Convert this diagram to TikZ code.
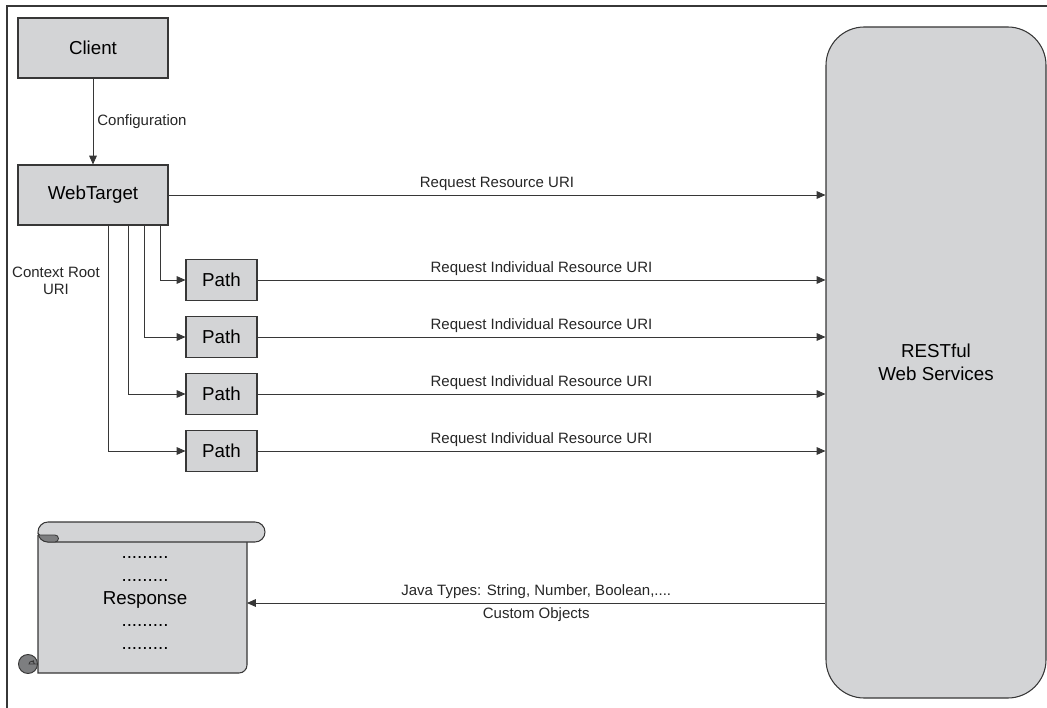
\documentclass[tikz,border=0pt]{standalone}
\usepackage{fontspec}
\setmainfont{Liberation Sans}
\usetikzlibrary{arrows.meta,positioning,calc}
\definecolor{boxgray}{RGB}{211,212,214}
\definecolor{linegray}{RGB}{55,55,55}
\definecolor{curlgray}{RGB}{125,126,128}
\tikzset{
    box color/.style={fill=boxgray,draw=linegray},
    box style/.style={box color,rectangle,line width=0.9pt,font=\fontsize{16}{19.6}\selectfont,inner sep=0pt},
    big box/.style={box style,minimum width=4.5cm,minimum height=1.8cm},
    path box/.style={box style,minimum width=2.13cm,minimum height=1.23cm},
    arr/.style={-{Triangle[length=7.5pt,width=6.5pt]},draw=linegray,line width=0.8pt},
    small label/.style={font=\fontsize{12.8}{15}\selectfont,text=black!85},
}

\begin{document}
\begin{tikzpicture}[x=0.03cm,y=-0.03cm]
    \useasboundingbox (0,0) rectangle (1047,708);
    % frame
    \draw[linegray,line width=0.9pt] (1047,6) -- (7,6) -- (7,708);

    \node[big box] (client) at (93,48) {Client};
    \node[big box] (wt) at (93,195) {WebTarget};
    \node[box style,rounded corners=1.15cm,minimum width=6.6cm,minimum height=20.13cm,align=center] (rest) at (936,362.5) {RESTful\\Web Services};
    \foreach \i/\y in {1/280,2/337,3/394,4/451}
        \node[path box] (p\i) at (221.5,\y) {Path};

    % response scroll
    \draw[box color,line width=0.9pt] (38,535) -- (38,673) -- (239,673) arc[start angle=270,end angle=360,radius=0.24cm] -- (247,535);
    \draw[linegray,fill=curlgray,line width=0.8pt] (28,664) circle[radius=0.285cm];
    \draw[linegray,line width=0.7pt] (37,664) -- (29,664) arc[start angle=180,end angle=0,radius=0.08cm] -- (33,660);
    \draw[box color,line width=0.9pt] (48,522) -- (255,522) arc[start angle=90,end angle=-90,radius=0.3cm] -- (48,542) arc[start angle=270,end angle=90,radius=0.3cm] -- cycle;
    \draw[linegray,fill=curlgray,line width=0.7pt] (40,535) -- (55,535) arc[start angle=90,end angle=-90,radius=0.105cm] -- (48,542) arc[start angle=270,end angle=190,radius=0.3cm] -- cycle;
    \node[font=\fontsize{16}{19.6}\selectfont,align=center] (resp) at (145,603) {.........\\.........\\Response\\.........\\.........};
    \coordinate (scrollE) at (247,603);

    \draw[arr] (client) -- (wt) node[small label,midway,right] {Configuration};
    \draw[arr] (wt.east) -- (wt.east -| rest.west) node[small label,midway,above] {Request Resource URI};
    \foreach \i/\dx in {1/67,2/51,3/35,4/15}
        \draw[arr] ($(wt.south)+(\dx,0)$) |- (p\i.west);
    \foreach \i in {1,...,4}
        \draw[arr] (p\i.east) -- (p\i.east -| rest.west) node[small label,midway,above] {Request Individual Resource URI};
    \node[small label,align=center] (ctx) at (56,281) {Context Root\\URI};
    \draw[arr] (rest.west |- scrollE) -- (scrollE)
        node[small label,midway,above] {Java Types: String, Number, Boolean,....}
        node[small label,midway,below] {Custom Objects};
\end{tikzpicture}
\end{document}
